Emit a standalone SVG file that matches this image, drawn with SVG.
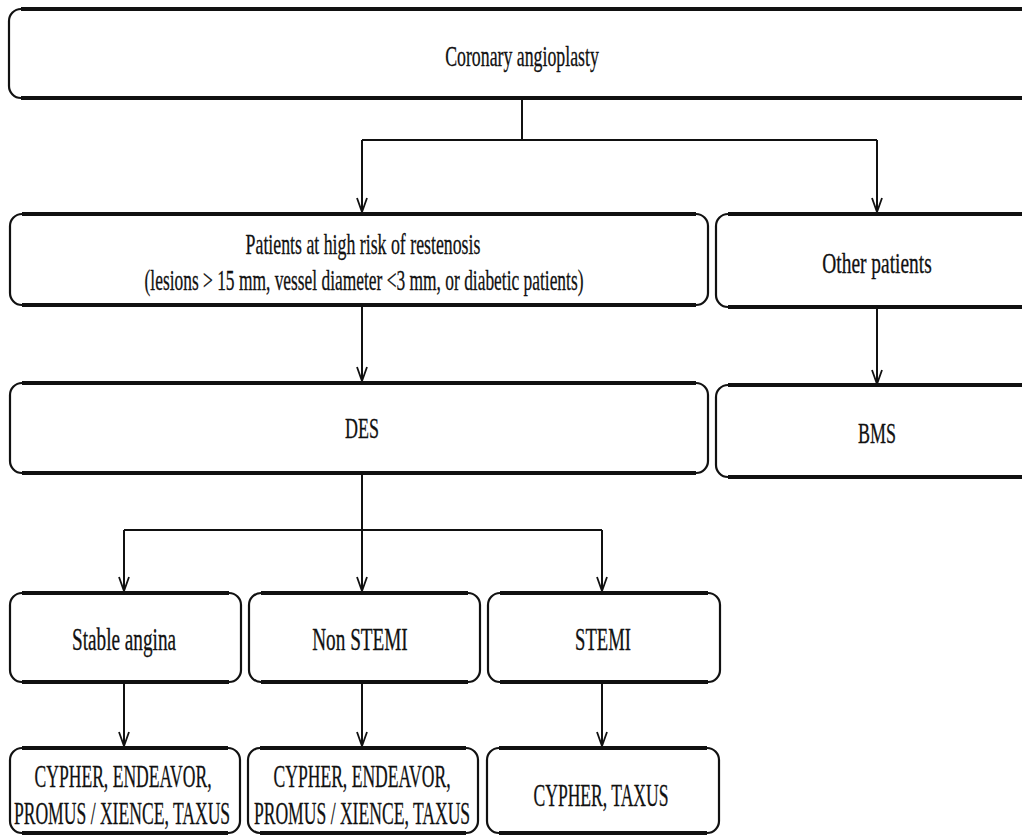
<svg xmlns="http://www.w3.org/2000/svg" width="1022" height="835" viewBox="0 0 1022 835">
<defs>
<style>
.box{fill:#fff;stroke:#111;stroke-width:2.2}
.edge{fill:none;stroke:#111;stroke-width:4}
.t{font-family:"Liberation Serif","Times New Roman",serif;font-size:29px;fill:#111;stroke:#111;stroke-width:0.3;text-anchor:middle}
.m{font-size:31px}
.b{font-size:32px}
.c{fill:none;stroke:#111;stroke-width:2}
</style>
<marker id="arr" markerWidth="18" markerHeight="12" refX="16" refY="6" orient="auto" markerUnits="userSpaceOnUse" viewBox="0 0 18 12">
<path d="M2,1 L16,6 L2,11" fill="none" stroke="#111" stroke-width="1.8"/>
</marker>
</defs>
<rect width="1022" height="835" fill="#fff"/>
<g id="connectors">
<path class="c" d="M522,99 V140 M362,140 H877"/>
<path class="c" d="M362,140 V212" marker-end="url(#arr)"/>
<path class="c" d="M877,140 V212" marker-end="url(#arr)"/>
<path class="c" d="M362,305 V381" marker-end="url(#arr)"/>
<path class="c" d="M877,307 V384" marker-end="url(#arr)"/>
<path class="c" d="M362,473 V530 M124,530 H602"/>
<path class="c" d="M124,530 V591" marker-end="url(#arr)"/>
<path class="c" d="M362,530 V591" marker-end="url(#arr)"/>
<path class="c" d="M602,530 V591" marker-end="url(#arr)"/>
<path class="c" d="M124,682 V746" marker-end="url(#arr)"/>
<path class="c" d="M362,682 V746" marker-end="url(#arr)"/>
<path class="c" d="M602,682 V746" marker-end="url(#arr)"/>
</g>
<g id="coronary">
<rect class="box" x="9" y="9" width="1030" height="89" rx="12"/>
<path class="edge" d="M21,9 H1030 M21,98 H1030"/>
<text class="t" transform="translate(522,66) scale(0.614,1)" x="0" y="0">Coronary angioplasty</text>
</g>
<g id="highrisk">
<rect class="box" x="10" y="214" width="698" height="91" rx="12"/>
<path class="edge" d="M22,214 H696 M22,305 H696"/>
<text class="t" transform="translate(363,254) scale(0.614,1)" x="0" y="0">Patients at high risk of restenosis</text>
<text class="t" transform="translate(364,290) scale(0.6,1)" x="0" y="0">(lesions &gt; 15 mm, vessel diameter &lt;3 mm, or diabetic patients)</text>
</g>
<g id="other">
<rect class="box" x="716" y="214" width="320" height="93" rx="12"/>
<path class="edge" d="M728,214 H1030 M728,307 H1030"/>
<text class="t" transform="translate(877,273) scale(0.67,1)" x="0" y="0">Other patients</text>
</g>
<g id="des">
<rect class="box" x="10" y="383" width="698" height="90" rx="12"/>
<path class="edge" d="M22,383 H696 M22,473 H696"/>
<text class="t" transform="translate(362,438) scale(0.62,1)" x="0" y="0">DES</text>
</g>
<g id="bms">
<rect class="box" x="716" y="385" width="320" height="92" rx="12"/>
<path class="edge" d="M728,385 H1030 M728,477 H1030"/>
<text class="t" transform="translate(877,443) scale(0.62,1)" x="0" y="0">BMS</text>
</g>
<g id="stable">
<rect class="box" x="10" y="593" width="231" height="89" rx="12"/>
<path class="edge" d="M22,593 H229 M22,682 H229"/>
<text class="t m" transform="translate(124,650) scale(0.62,1)" x="0" y="0">Stable angina</text>
</g>
<g id="nonstemi">
<rect class="box" x="249" y="593" width="231" height="89" rx="12"/>
<path class="edge" d="M261,593 H468 M261,682 H468"/>
<text class="t m" transform="translate(360,650) scale(0.62,1)" x="0" y="0">Non STEMI</text>
</g>
<g id="stemi">
<rect class="box" x="488" y="593" width="232" height="89" rx="12"/>
<path class="edge" d="M500,593 H708 M500,682 H708"/>
<text class="t m" transform="translate(603,650) scale(0.6,1)" x="0" y="0">STEMI</text>
</g>
<g id="stents1">
<rect class="box" x="10" y="748" width="230" height="85" rx="12"/>
<path class="edge" d="M22,748 H228 M22,833 H228"/>
<text class="t b" transform="translate(123,787) scale(0.55,1)" x="0" y="0">CYPHER, ENDEAVOR,</text>
<text class="t b" transform="translate(122,824) scale(0.55,1)" x="0" y="0">PROMUS / XIENCE, TAXUS</text>
</g>
<g id="stents2">
<rect class="box" x="248" y="748" width="230" height="85" rx="12"/>
<path class="edge" d="M260,748 H466 M260,833 H466"/>
<text class="t b" transform="translate(362,787) scale(0.55,1)" x="0" y="0">CYPHER, ENDEAVOR,</text>
<text class="t b" transform="translate(362,824) scale(0.55,1)" x="0" y="0">PROMUS / XIENCE, TAXUS</text>
</g>
<g id="stents3">
<rect class="box" x="487" y="748" width="232" height="85" rx="12"/>
<path class="edge" d="M499,748 H707 M499,833 H707"/>
<text class="t b" transform="translate(601,806) scale(0.55,1)" x="0" y="0">CYPHER, TAXUS</text>
</g>
</svg>
